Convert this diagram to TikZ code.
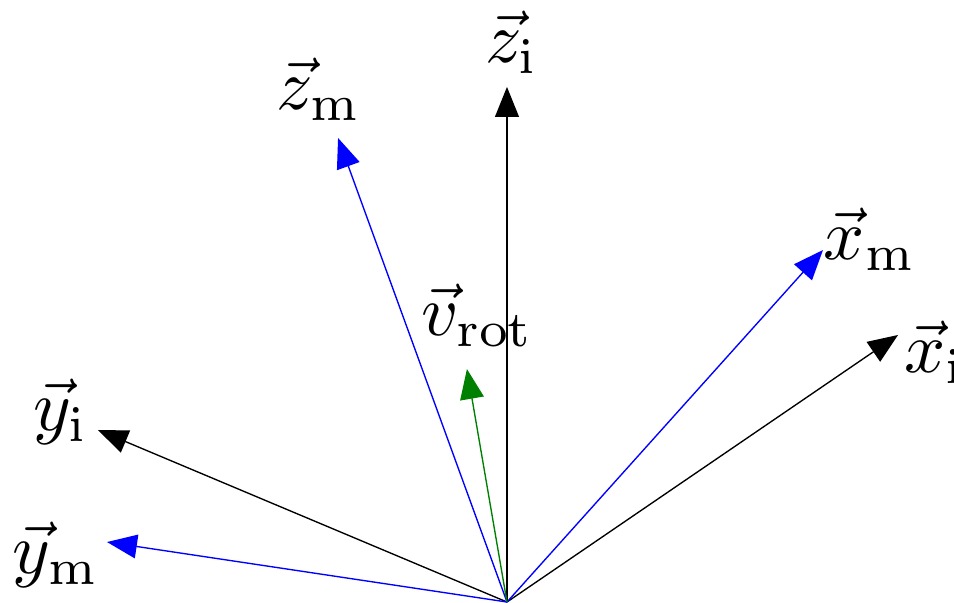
\documentclass[tikz,border=0pt]{standalone}
\usepackage{amsmath}
\usepackage{amsfonts,amssymb}
\usepackage{tikz}
\usetikzlibrary{positioning,arrows.meta}
\definecolor{DarkGreen}{RGB}{0,128,0}

\begin{document}
\begin{tikzpicture}[axis/.style={line width=0.2pt,-{Triangle[length=4.4pt,width=3.5pt]}},
			lbl/.style={scale=1.06}]
			\useasboundingbox (-2.62,-0.005) rectangle (2.31,3.111);
			\coordinate (O) at (0,0);
			% inertial frame
			\coordinate (Xi) at (2.021,1.380);
			\coordinate (Yi) at (-2.114,0.889);
			\coordinate (Zi) at (0,2.662);
			% measured frame
			\coordinate (Xm) at (1.633,1.819);
			\coordinate (Ym) at (-2.067,0.310);
			\coordinate (Zm) at (-0.873,2.398);
			\coordinate (V) at (-0.207,1.204);
			\draw[axis] (O) -- (Xi);
			\draw[axis] (O) -- (Yi);
			\draw[axis] (O) -- (Zi);
			\draw[axis,blue] (O) -- (Xm);
			\draw[axis,blue] (O) -- (Ym);
			\draw[axis,blue] (O) -- (Zm);
			\draw[axis,DarkGreen] (O) -- (V);
			\node[lbl] (Xilabel) at (2.212,1.292) {$\vec{x}_\mathrm{i}$};
			\node[lbl] (Yilabel) at (-2.305,0.982) {$\vec{y}_\mathrm{i}$};
			\node[lbl] (Zilabel) at (0.026,2.894) {$\vec{z}_\mathrm{i}$};
			\node[lbl] (Xmlabel) at (1.876,1.876) {$\vec{x}_\mathrm{m}$};
			\node[lbl] (Ymlabel) at (-2.331,0.243) {$\vec{y}_\mathrm{m}$};
			\node[lbl] (Zmlabel) at (-0.972,2.651) {$\vec{z}_\mathrm{m}$};
			\node[lbl] (Vlabel) at (-0.150,1.483) {$\vec{v}_\mathrm{rot}$};
		\end{tikzpicture}
\end{document}
